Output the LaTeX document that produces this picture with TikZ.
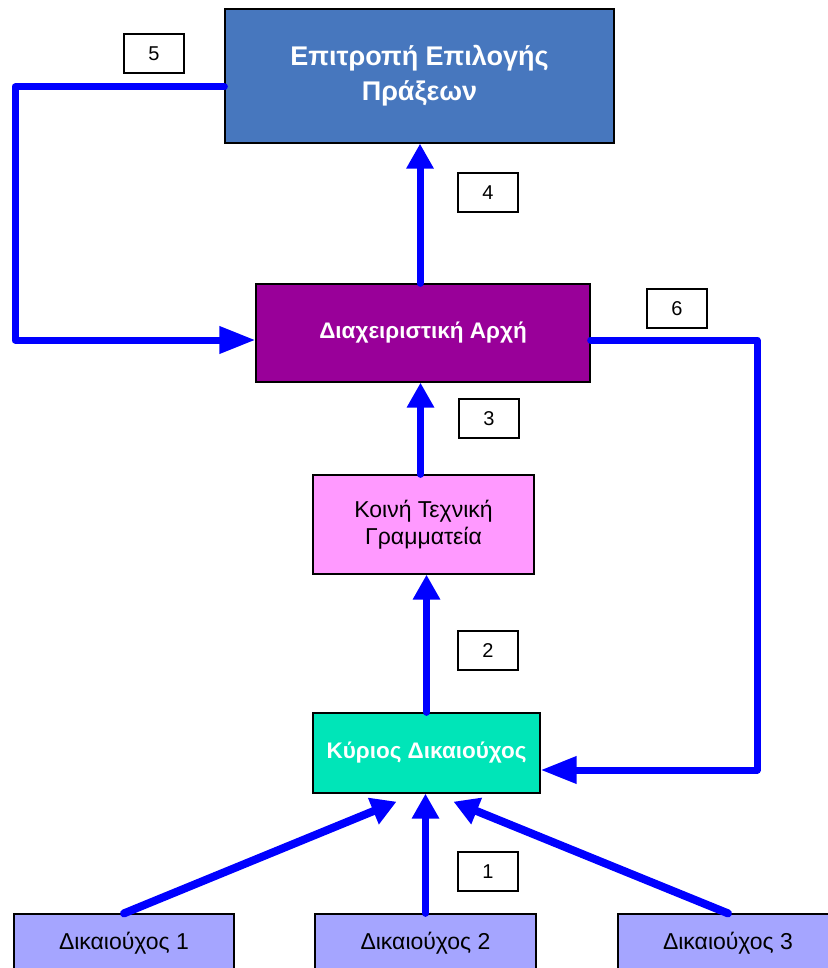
\documentclass[tikz,border=0pt]{standalone}
\usepackage{fontspec}
\setmainfont{Liberation Sans}
\usepackage{xcolor}
\usepackage{tikz}
\usetikzlibrary{arrows.meta}
\definecolor{eppblue}{HTML}{4777BE}
\definecolor{mapurple}{HTML}{990099}
\definecolor{ktgpink}{HTML}{FF99FF}
\definecolor{kdgreen}{HTML}{00E5B8}
\definecolor{dlilac}{HTML}{A5A5FF}
\colorlet{flowblue}{blue}
\tikzstyle{box}=[draw=black,line width=1.3pt,inner sep=0pt,align=center]
\tikzstyle{numbox}=[draw=black,line width=1.2pt,fill=white,inner sep=0pt,minimum width=60pt,minimum height=39pt,font=\fontsize{20}{24}\selectfont]
\tikzstyle{feed}=[draw=flowblue,line width=7pt,line join=round,line cap=round]
\tikzstyle{flow}=[feed,-{Triangle[length=25pt,width=26pt]}]
\tikzstyle{flowdiag}=[feed,line width=8pt,-{Triangle[length=25pt,width=27pt]}]
\tikzstyle{flowlong}=[feed,-{Triangle[length=36pt,width=26pt]}]
\newcommand\boldtxt{\fontsize{22.5}{27}\selectfont\bfseries\color{white}}
\newcommand\plaintxt{\fontsize{23}{27}\selectfont}
\begin{document}
\begin{tikzpicture}[x=1pt,y=-1pt]
	\useasboundingbox (0,0) rectangle (827,968);
	\node[box,fill=eppblue,minimum width=389pt,minimum height=134pt,font=\fontsize{27}{35}\selectfont\bfseries,text=white] (epit) at (419.5,76) {Επιτροπή Επιλογής\\Πράξεων};
	\node[box,fill=mapurple,minimum width=334pt,minimum height=98pt,font=\boldtxt] (diax) at (423,333) {Διαχειριστική Αρχή};
	\node[box,fill=ktgpink,minimum width=221pt,minimum height=99pt,font=\plaintxt] (koini) at (423.5,524.5) {Κοινή Τεχνική\\Γραμματεία};
	\node[box,fill=kdgreen,minimum width=227pt,minimum height=80pt,font=\boldtxt] (kyrios) at (426.5,753) {Κύριος Δικαιούχος};
	\node[box,fill=dlilac,minimum width=220pt,minimum height=58pt,font=\plaintxt] (d1) at (124,943) {Δικαιούχος 1};
	\node[box,fill=dlilac,minimum width=221pt,minimum height=58pt,font=\plaintxt] (d2) at (425.5,943) {Δικαιούχος 2};
	\node[box,fill=dlilac,minimum width=220pt,minimum height=58pt,font=\plaintxt] (d3) at (728,943) {Δικαιούχος 3};

	\node[numbox] (n1) at (488,871.5) {1};
	\node[numbox] (n2) at (488,650.5) {2};
	\node[numbox] (n3) at (489,418.5) {3};
	\node[numbox] (n4) at (488,192.5) {4};
	\node[numbox] (n5) at (154,53.5) {5};
	\node[numbox] (n6) at (677,308.5) {6};

	\coordinate (c5a) at (15,87);
	\coordinate (c5b) at (15,340);
	\coordinate (c6a) at (757,340);
	\coordinate (c6b) at (757,770);

	\draw[flowdiag] (d1.north) -- ([shift={(-30pt,-8pt)}]kyrios.south);
	\draw[flow] (d2.north) -- (d2.north |- kyrios.south);
	\draw[flowdiag] (d3.north) -- ([shift={(27pt,-8pt)}]kyrios.south);
	\draw[flow] (kyrios.north) -- (kyrios.north |- koini.south);
	\draw[flow] ([xshift=-3pt]koini.north) -- ([xshift=-3pt]koini.north |- diax.south);
	\draw[flow] ([xshift=-3pt]diax.north) -- ([xshift=-3pt]diax.north |- epit.south);
	\draw[flowlong] ([yshift=-11pt]epit.west) -- (c5a) -- (c5b) -- (diax.west |- c5b);
	\draw[flowlong] (diax.east |- c6a) -- (c6a) -- (c6b) -- (kyrios.east |- c6b);
\end{tikzpicture}
\end{document}
